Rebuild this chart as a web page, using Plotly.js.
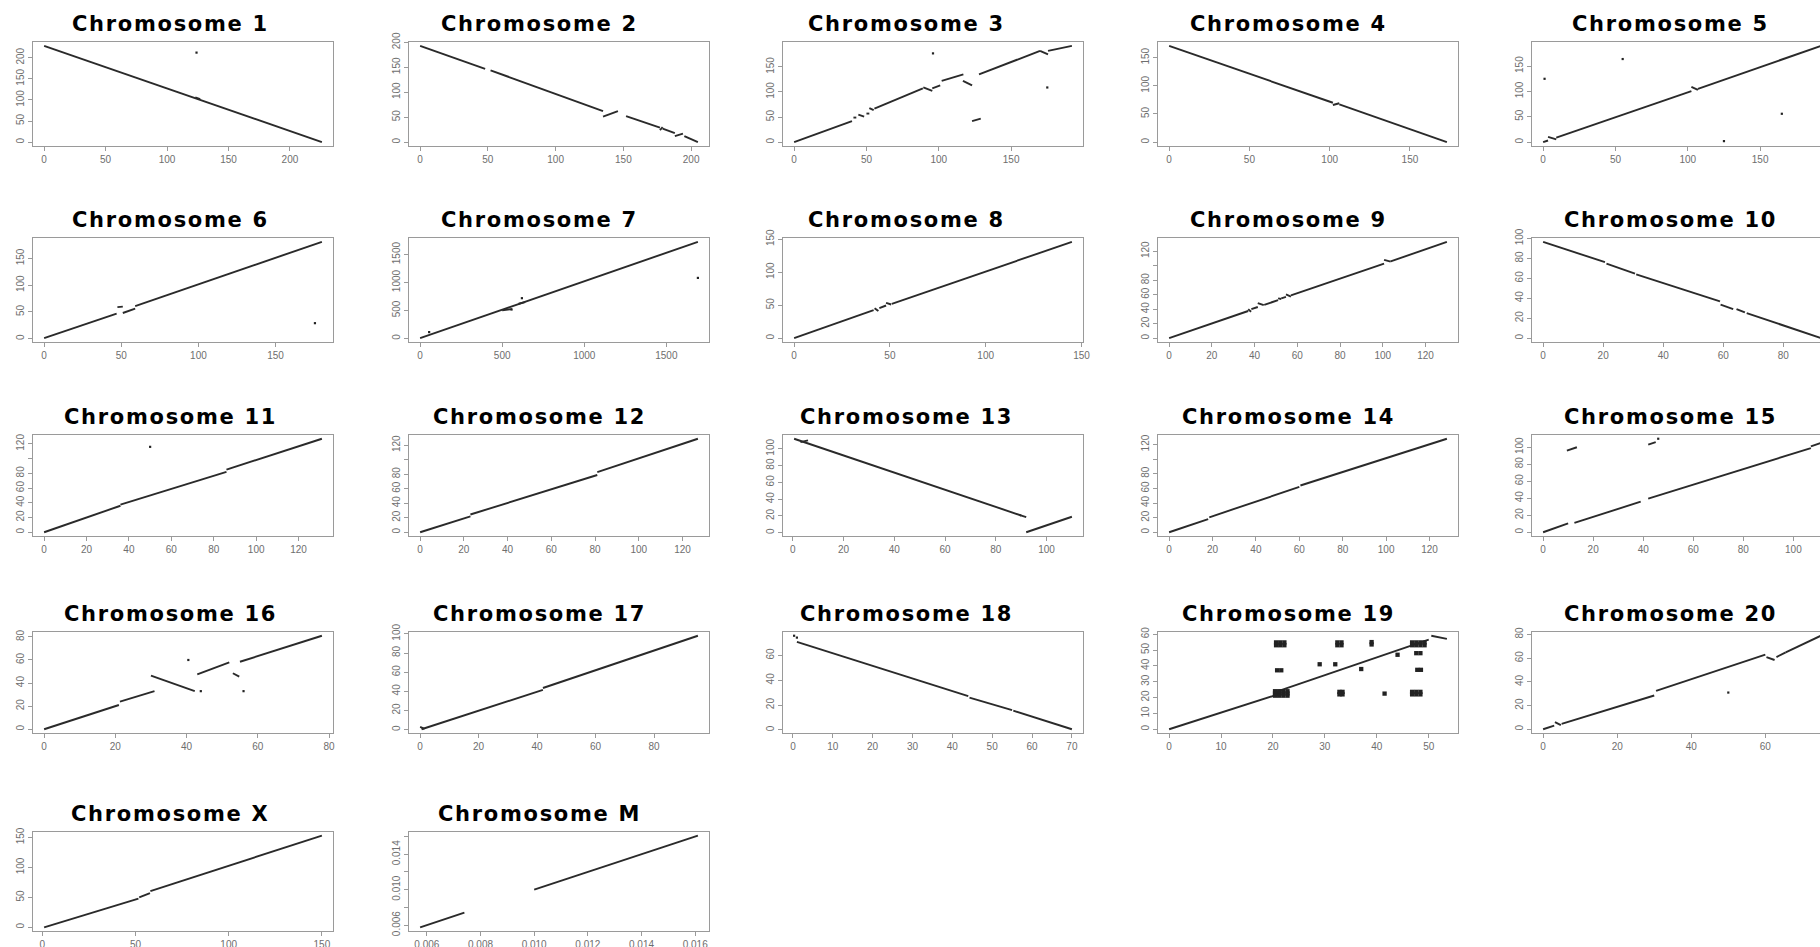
<!DOCTYPE html>
<html><head><meta charset="utf-8">
<script src="https://cdn.plot.ly/plotly-3.0.1.min.js"></script>
<style>html,body{margin:0;padding:0;overflow:hidden;background:#fff}#plot{width:1880px;height:980px}</style>
</head><body><div id="plot"></div><script>
const chromosomes = ['1','2','3','4','5','6','7','8','9','10','11','12','13','14','15','16','17','18','19','20','X','M'];

const chr1Segments = [[0,228,226,0],[123,106,127,102]];
const chr1Dots = [[124,212]];
const chr2Segments = [[0,193,48,147],[52,144,135,62],[135,51,146,62],[152,52,177,29],[177,24,179,30],[179,27,188,18],[188,12,194,17],[195,12,205,0]];
const chr2Dots = [];
const chr3Segments = [[0,0,40,42],[41,49,43,49],[44.4,55,48.4,51],[50,57,52,57],[52,68,55,64],[55.5,67,89,107],[89.3,109,95.5,102],[95.5,107,101,113],[102,122,117,135],[116.7,122,123,113],[127.8,135,170,182],[170,182,175.5,175],[175.5,182,192,192],[123,42,129,47]];
const chr3Dots = [[96,177],[175,109]];
const chr4Segments = [[0,171,102,70],[102,66,106,69],[106,67,173,0]];
const chr4Dots = [];
const chr5Segments = [[0,0,3.4,3.3],[3.4,10.5,9.1,5.3],[9.1,8.9,102.5,100.5],[102.5,109,107,103],[107,105,192,190]];
const chr5Dots = [[1,125],[55,164],[125,2],[165,56]];
const chr6Segments = [[0,1,47,47],[47.5,59,51,60],[51,48,59,56],[59,61,180,181]];
const chr6Dots = [[175.5,29]];
const chr7Segments = [[0,5,1692,1728],[500,505,560,525],[600,620,640,650]];
const chr7Dots = [[55,113],[557,518],[620,720],[1692,1083]];
const chr8Segments = [[0,0,41.5,42.5],[42,45.5,44,41],[44.5,45.5,48,49.5],[48,53.5,50.7,51],[51,52,145,146]];
const chr8Dots = [];
const chr9Segments = [[0,0,37,37.5],[37,40,38.4,36.5],[38.5,40,41.5,43],[41.5,48.5,44.3,45.5],[44.5,46,51,52.5],[51,55,52.5,54],[52.5,55,54.7,57],[54.7,60.5,57,57.5],[57,59,100.6,103],[100.6,108,103.7,105.6],[103.7,106,130,133]];
const chr9Dots = [];
const chr10Segments = [[0,96.6,20.6,76.2],[21.1,74.8,30.6,64.8],[31,64,58.9,36.9],[59.1,33.6,63.3,29.2],[64.4,29.2,67.2,25.8],[67.8,25.2,92.5,0]];
const chr10Dots = [];
const chr11Segments = [[0,0,36,36],[36,37.5,86,82],[86,85,131,127]];
const chr11Dots = [[50,116]];
const chr12Segments = [[0,0,23,22],[23,24.5,81,79],[81,83,127,129]];
const chr12Dots = [];
const chr13Segments = [[0.5,112,90,20.5],[89.5,21,92,18.5],[92,0.5,110,19],[3,108,6,110]];
const chr13Dots = [];
const chr14Segments = [[0,0,18,18],[18.5,20.5,60,62],[60.5,64,128,128]];
const chr14Dots = [];
const chr15Segments = [[0,0,10,10.5],[12.5,11,39,36],[42,39.5,107,99],[107,101,111,105],[9.5,96,13.5,100],[42,103,45,106]];
const chr15Dots = [[46,110]];
const chr16Segments = [[0,0,21,21],[21.3,24,31,33],[30,46.5,42.3,33],[43,47.5,52,58],[53,48.5,54.8,45.6],[55,58.5,78,81]];
const chr16Dots = [[40.5,60],[44,33],[56,33]];
const chr17Segments = [[0,3,1.5,1],[0.5,0.5,42,41.5],[42,43.5,95,98]];
const chr17Dots = [];
const chr18Segments = [[1,71,44,27.2],[44.3,26,55,16],[55.3,15.5,70,0.5]];
const chr18Dots = [[0.3,76],[1,74.5]];
const chr19Segments = [[0,0,21,22],[21,24,50,56.5],[50.5,59,53.5,57]];
const chr19Dots = [[20.4,21.2],[21.2,21.2],[22,21.2],[22.8,21.2],[20.4,22.6],[21.2,22.6],[22,22.6],[22.8,22.6],[20.4,24],[21.2,24],[22,24],[22.8,24],
  [20.6,53],[21.4,53],[22.2,53],[20.6,54.8],[21.4,54.8],[22.2,54.8],[20.8,37.2],[21.6,37.2],
  [32.4,53],[33.2,53],[32.4,54.8],[33.2,54.8],[32.8,22],[33.4,22],[32.8,23.6],[33.4,23.6],[39,53.5],[39,55],
  [46.8,53],[47.6,53],[48.4,53],[49.2,53],[46.8,54.8],[47.6,54.8],[48.4,54.8],[49.2,54.8],[47.6,48],[48.4,48],[47.8,37.5],[48.5,37.5],
  [46.8,22],[47.6,22],[48.4,22],[46.8,23.6],[47.6,23.6],[48.4,23.6],[41.5,22.5],[32,41],[44,47],[29,41],[37,38]];
const chr20Segments = [[0,0,3,3],[3.2,6,4.8,3.5],[5,4.5,30,28.5],[30.5,32.5,60,63],[60.3,61,62.5,58.5],[63,61,65.5,65],[65.5,65,75,79]];
const chr20Dots = [[50,31]];
const chrXSegments = [[1,0,51.6,48],[52,50,57.8,57],[58,60.5,150,153]];
const chrXDots = [];
const chrMSegments = [[0.00575,0.00575,0.0074,0.0074],[0.0100,0.0100,0.0161,0.0161]];
const chrMDots = [];

const xTickStep = [50,50,50,50,50,50,500,50,20,20,20,20,20,20,20,20,20,10,10,20,50,0.002];
const yTickStep = [50,50,50,50,50,50,500,50,20,20,20,20,20,20,20,20,20,20,10,20,50,0.002];
const yHiddenLabels = [[],[],[],[],[],[],[],[],[100],[],[100],[100],[],[100],[],[],[],[],[],[],[],[0.008,0.012,0.016]];

const allSegments = [chr1Segments,chr2Segments,chr3Segments,chr4Segments,chr5Segments,chr6Segments,chr7Segments,chr8Segments,chr9Segments,chr10Segments,chr11Segments,chr12Segments,chr13Segments,chr14Segments,chr15Segments,chr16Segments,chr17Segments,chr18Segments,chr19Segments,chr20Segments,chrXSegments,chrMSegments];
const allDots = [chr1Dots,chr2Dots,chr3Dots,chr4Dots,chr5Dots,chr6Dots,chr7Dots,chr8Dots,chr9Dots,chr10Dots,chr11Dots,chr12Dots,chr13Dots,chr14Dots,chr15Dots,chr16Dots,chr17Dots,chr18Dots,chr19Dots,chr20Dots,chrXDots,chrMDots];

const W = 1880, H = 980;
const colLeft = [33, 409, 783, 1158, 1532];
const titleOffset = [137, 130, 123, 130, 138];
const rowTop = [42, 238, 435, 632, 832];
const rowHeight = [104, 104, 101, 101, 99];
const boxWidth = 300;
const boxColor = '#9a9a9a';
const tickFont = {family: 'Liberation Sans, Arial, sans-serif', size: 10, color: '#6e6e6e'};

function makeTicks(rmin, rmax, step, hidden) {
  const vals = [], text = [];
  const start = Math.ceil(rmin / step - 1e-9);
  for (let k = start; k * step <= rmax + 1e-12; k++) {
    const v = parseFloat((k * step).toFixed(6));
    vals.push(v);
    const isHidden = hidden.some(h => Math.abs(h - v) < 1e-9);
    text.push(isHidden ? '' : (step < 1 ? v.toFixed(3) : String(v)));
  }
  return {vals, text};
}

const data = [];
const layout = {width: W, height: H, margin: {l:0, r:0, t:0, b:0}, showlegend: false,
  paper_bgcolor: '#fff', plot_bgcolor: '#fff', annotations: []};

chromosomes.forEach((name, i) => {
  const suf = i === 0 ? '' : String(i + 1);
  const segs = allSegments[i], dots = allDots[i];
  const xs = [], ys = [];
  segs.forEach(s => { xs.push(s[0], s[2], null); ys.push(s[1], s[3], null); });
  const allX = segs.flatMap(s => [s[0], s[2]]).concat(dots.map(d => d[0]));
  const allY = segs.flatMap(s => [s[1], s[3]]).concat(dots.map(d => d[1]));
  const xmin = Math.min(...allX), xmax = Math.max(...allX);
  const ymin = Math.min(...allY), ymax = Math.max(...allY);
  const xpad = 0.04 * (xmax - xmin), ypad = 0.04 * (ymax - ymin);
  const xr = [xmin - xpad, xmax + xpad], yr = [ymin - ypad, ymax + ypad];

  data.push({type: 'scatter', mode: 'lines', x: xs, y: ys, xaxis: 'x' + suf, yaxis: 'y' + suf,
    line: {color: '#2a2a2a', width: 1.9}, connectgaps: false, hoverinfo: 'skip'});
  if (dots.length) {
    data.push({type: 'scatter', mode: 'markers', x: dots.map(d => d[0]), y: dots.map(d => d[1]),
      xaxis: 'x' + suf, yaxis: 'y' + suf, hoverinfo: 'skip',
      marker: {symbol: 'square', size: name === '19' ? 4.3 : 2.2, color: '#222', line: {width: 0}}});
  }

  const row = Math.floor(i / 5), col = i % 5;
  const left = colLeft[col], top = rowTop[row], bottom = top + rowHeight[row];
  const xt = makeTicks(xr[0], xr[1], xTickStep[i], []);
  const yt = makeTicks(yr[0], yr[1], yTickStep[i], yHiddenLabels[i]);
  const common = {showline: true, mirror: true, linecolor: boxColor, linewidth: 1,
    ticks: 'outside', ticklen: 4, tickwidth: 1, tickcolor: boxColor,
    showgrid: false, zeroline: false, tickfont: tickFont, fixedrange: true, tickmode: 'array'};
  layout['xaxis' + suf] = Object.assign({}, common, {domain: [left / W, (left + boxWidth) / W],
    range: xr, anchor: 'y' + suf, tickvals: xt.vals, ticktext: xt.text});
  layout['yaxis' + suf] = Object.assign({}, common, {domain: [1 - bottom / H, 1 - top / H],
    range: yr, anchor: 'x' + suf, tickvals: yt.vals, ticktext: yt.text, tickangle: -90});
  layout.annotations.push({text: '<span style="letter-spacing:1.7px"><b>Chromosome ' + name + '</b></span>',
    xref: 'paper', yref: 'paper',
    x: (left + titleOffset[col]) / W, y: 1 - (top - 18) / H, xanchor: 'center', yanchor: 'middle', showarrow: false,
    font: {family: 'DejaVu Sans, sans-serif', size: 21, color: '#000'}});
});

Plotly.newPlot('plot', data, layout, {displayModeBar: false, staticPlot: true});
</script></body></html>
